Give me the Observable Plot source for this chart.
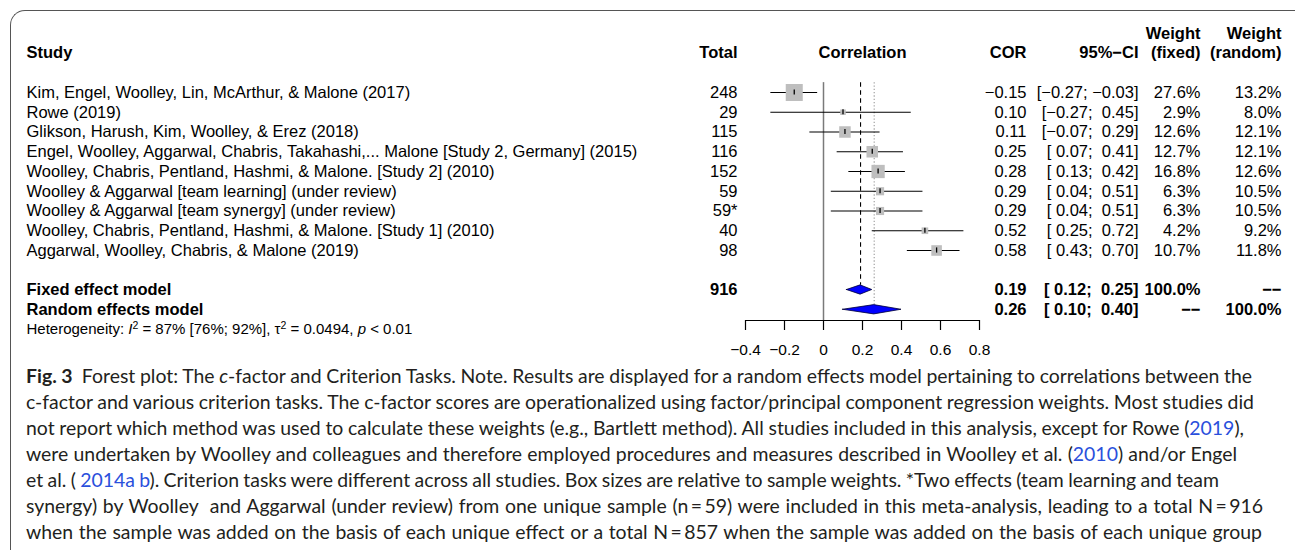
<!DOCTYPE html>
<html>
<head>
<meta charset="utf-8">
<script src="https://cdn.jsdelivr.net/npm/d3@7"></script>
<script src="https://cdn.jsdelivr.net/npm/@observablehq/plot@0.6"></script>
<style>
html, body { margin: 0; padding: 0; background: #fff; }
#wrap { position: relative; width: 1295px; height: 550px; overflow: hidden; background: #fff; }
#frame { position: absolute; left: 10px; top: 10px; width: 1400px; height: 700px; box-sizing: border-box;
  border-left: 1.6px solid #555; border-top: 1.6px solid #555; border-top-left-radius: 15px; }
#chart { position: absolute; left: 0; top: 0; }
#caption { position: absolute; left: 26px; top: 363px; font-family: Lato, "Noto Sans", sans-serif; font-size: 17px;
  line-height: 26px; color: #231f20; white-space: nowrap; }
#caption .cl { height: 26px; }
#caption a { color: #2a50dc; text-decoration: none; }
</style>
</head>
<body>
<div id="wrap"><div id="frame"></div><div id="chart"></div><div id="caption"></div></div>
<script>
// ---------------- data ----------------
const studies = [
  "Kim, Engel, Woolley, Lin, McArthur, & Malone (2017)",
  "Rowe (2019)",
  "Glikson, Harush, Kim, Woolley, & Erez (2018)",
  "Engel, Woolley, Aggarwal, Chabris, Takahashi,... Malone [Study 2, Germany] (2015)",
  "Woolley, Chabris, Pentland, Hashmi, & Malone. [Study 2] (2010)",
  "Woolley & Aggarwal [team learning] (under review)",
  "Woolley & Aggarwal [team synergy] (under review)",
  "Woolley, Chabris, Pentland, Hashmi, & Malone. [Study 1] (2010)",
  "Aggarwal, Woolley, Chabris, & Malone (2019)"
];
const totals = ["248", "29", "115", "116", "152", "59", "59*", "40", "98"];
const cor = [-0.15, 0.10, 0.11, 0.25, 0.28, 0.29, 0.29, 0.52, 0.58];
const lower = [-0.27, -0.27, -0.07, 0.07, 0.13, 0.04, 0.04, 0.25, 0.43];
const upper = [-0.03, 0.45, 0.29, 0.41, 0.42, 0.51, 0.51, 0.72, 0.70];
const weightFixed = [27.6, 2.9, 12.6, 12.7, 16.8, 6.3, 6.3, 4.2, 10.7];
const weightRandom = [13.2, 8.0, 12.1, 12.1, 12.6, 10.5, 10.5, 9.2, 11.8];

const models = ["Fixed effect model", "Random effects model"];
const modelTotal = ["916", ""];
const modelEst = [0.19, 0.26];
const modelLower = [0.12, 0.10];
const modelUpper = [0.25, 0.40];
const modelWeightFixed = ["100.0%", "\u2212\u2212"];
const modelWeightRandom = ["\u2212\u2212", "100.0%"];

const headerTop = ["", "", "", "", "", "Weight", "Weight"];
const headerLabels = ["Study", "Total", "Correlation", "COR", "95%\u2212CI", "(fixed)", "(random)"];
const hetText = "Heterogeneity: I2 = 87% [76%; 92%], \u03c42 = 0.0494, p < 0.01";
const xTicks = [-0.4, -0.2, 0, 0.2, 0.4, 0.6, 0.8];

const captionLines = [
  '<b>Fig.\u00a03</b>\u00a0 Forest plot: The <i>c</i>-factor and Criterion Tasks. Note. Results are displayed for a random effects model pertaining to correlations between the',
  'c-factor and various criterion tasks. The c-factor scores are operationalized using factor/principal component regression weights. Most studies did',
  'not report which method was used to calculate these weights (e.g., Bartlett method). All studies included in this analysis, except for Rowe (<a>2019</a>),',
  'were undertaken by Woolley and colleagues and therefore employed procedures and measures described in Woolley et al. (<a>2010</a>) and/or Engel',
  'et al. ( <a>2014a b</a>). Criterion tasks were different across all studies. Box sizes are relative to sample weights. *Two effects (team learning and team',
  'synergy) by Woolley\u00a0 and Aggarwal (under review) from one unique sample (n\u2009=\u200959) were included in this meta-analysis, leading to a total N\u2009=\u2009916',
  'when the sample was added on the basis of each unique effect or a total N\u2009=\u2009857 when the sample was added on the basis of each unique group'
];

// ---------------- layout ----------------
const W = 1295, H = 362;
const rowFirst = 1, rowFixed = 11, rowRandom = 12, rowHet = 13, rowHeader = -1, rowHeaderTop = -2;
const yDomain = [-2, 12.544];          // last value = axis line row
const colX = [26, 737, 862, 1026, 1138, 1200, 1281];
const colAnchor = ["start", "end", "middle", "end", "end", "end", "end"];
const TF = "Liberation Sans, Arial, Helvetica, sans-serif";
const FS = 16.5;

const fmt2 = v => (v < 0 ? "\u2212" : "") + Math.abs(v).toFixed(2);
const fmtCI = v => (v < 0 ? "\u2212" : "\u00a0") + Math.abs(v).toFixed(2);
const ciText = (lo, hi) => `[${fmtCI(lo)};\u00a0${fmtCI(hi)}]`;

const rows = studies.map((s, i) => ({
  study: s, total: totals[i], cor: cor[i], lo: lower[i], hi: upper[i],
  wf: weightFixed[i], wr: weightRandom[i], row: rowFirst + i,
  corT: fmt2(cor[i]), ciT: ciText(lower[i], upper[i]),
  wfT: weightFixed[i].toFixed(1) + "%", wrT: weightRandom[i].toFixed(1) + "%"
}));
const modelRows = models.map((m, i) => ({
  study: m, total: modelTotal[i], est: modelEst[i], lo: modelLower[i], hi: modelUpper[i],
  row: i === 0 ? rowFixed : rowRandom,
  corT: fmt2(modelEst[i]), ciT: ciText(modelLower[i], modelUpper[i]),
  wfT: modelWeightFixed[i], wrT: modelWeightRandom[i]
}));
const halfDiamond = 0.235;
const diamondPts = modelRows.flatMap(m => [
  {m: m.study, x: m.lo, y1: m.row, y2: m.row},
  {m: m.study, x: m.est, y1: m.row - halfDiamond, y2: m.row + halfDiamond},
  {m: m.study, x: m.hi, y1: m.row, y2: m.row}
]);

function col(data, field, i, extra = {}) {
  return Plot.text(data, {
    text: field, y: "row", frameAnchor: "left", dx: colX[i], textAnchor: colAnchor[i],
    fontFamily: TF, fontSize: FS, fill: "black", ...extra
  });
}
const fields = ["study", "total", null, "corT", "ciT", "wfT", "wrT"];
const tableMarks = [];
fields.forEach((f, i) => {
  if (!f) return;
  tableMarks.push(col(rows, f, i));
  tableMarks.push(col(modelRows, f, i, {fontWeight: "bold"}));
});
headerLabels.forEach((t, i) => {
  tableMarks.push(Plot.text([t], {text: d => d, y: () => rowHeader, frameAnchor: "left", dx: colX[i],
    textAnchor: colAnchor[i], fontFamily: TF, fontSize: FS, fontWeight: "bold", fill: "black"}));
  if (headerTop[i]) tableMarks.push(Plot.text([headerTop[i]], {text: d => d, y: () => rowHeaderTop, frameAnchor: "left",
    dx: colX[i], textAnchor: colAnchor[i], fontFamily: TF, fontSize: FS, fontWeight: "bold", fill: "black"}));
});

const chart = Plot.plot({
  width: W, height: H,
  marginLeft: 0, marginRight: 0, marginTop: 0, marginBottom: H - 320,
  x: {domain: [xTicks[0], xTicks[xTicks.length - 1]], range: [745, 979]},
  y: {domain: yDomain, range: [32.75, 320], axis: null},
  r: {type: "sqrt", domain: [0, d3.max(weightFixed)], range: [0, 9.6]},
  style: {background: "transparent", overflow: "visible", color: "black"},
  marks: [
    // reference lines
    Plot.ruleX([0], {y1: () => 0.5, y2: () => yDomain[1], stroke: "#7a7a7a", strokeWidth: 1.5}),
    Plot.ruleX([modelEst[0]], {x: d => d, y1: () => 0.5, y2: () => rowFixed - halfDiamond, stroke: "black", strokeDasharray: "4.5,3.5", strokeWidth: 1.1}),
    Plot.ruleX([modelEst[1]], {x: d => d, y1: () => 0.5, y2: () => rowRandom, stroke: "#9a9a9a", strokeDasharray: "1.3,2", strokeWidth: 1.1}),
    // CIs, boxes, point ticks
    Plot.ruleY(rows, {y: "row", x1: "lo", x2: "hi", stroke: "black", strokeWidth: 1.2}),
    Plot.dot(rows, {x: "cor", y: "row", r: "wf", symbol: "square", fill: "#bebebe"}),
    Plot.ruleX(rows, {x: "cor", y1: "row", y2: "row", insetTop: -2.6, insetBottom: -2.6, stroke: "black", strokeWidth: 1.3}),
    // diamonds
    Plot.areaY(diamondPts, {x: "x", y1: "y1", y2: "y2", z: "m", fill: "#0000ff", stroke: "#000033", strokeWidth: 0.8}),
    // axis
    Plot.ruleY([yDomain[1]], {y: d => d, x1: () => xTicks[0], x2: () => xTicks[xTicks.length - 1], stroke: "black", strokeWidth: 1.2}),
    Plot.axisX({ticks: xTicks, tickSize: 10, tickPadding: 13, label: null, stroke: "black", strokeWidth: 1.2,
      tickFormat: d => d === 0 ? "0" : d3.format(".1f")(d), fontFamily: TF, fontSize: 15.5, fill: "black"}),
    // table
    ...tableMarks,
    Plot.text([hetText], {text: d => d, y: () => rowHet, frameAnchor: "left", dx: 26, textAnchor: "start",
      fontFamily: TF, fontSize: 15, fill: "black"})
  ]
});
document.getElementById("chart").appendChild(chart);

// rich heterogeneity text (italic I and p, superscripts)
d3.select(chart).selectAll("text").filter(function () { return this.textContent === hetText; }).each(function () {
  const t = d3.select(this);
  t.text(null);
  const parts = [["Heterogeneity: "], ["I", "i"], ["2", "sup"], [" = 87% [76%; 92%], \u03c4"], ["2", "sup"], [" = 0.0494, "], ["p", "i"], [" < 0.01"]];
  let raised = false;
  for (const [s, k] of parts) {
    const ts = t.append("tspan").text(s).attr("xml:space", "preserve").style("white-space", "pre");
    if (k === "i") ts.attr("font-style", "italic");
    if (k === "sup") { ts.attr("font-size", "70%").attr("dy", "-5"); raised = true; }
    else if (raised) { ts.attr("dy", "5"); raised = false; }
  }
});

// caption
const cap = document.getElementById("caption");
cap.innerHTML = captionLines.map(l => `<div class="cl"><span>${l}</span></div>`).join("");
const captionRight = [1252, 1254, 1244, 1237, 1219, 1263, 1262];
const spans = [...cap.querySelectorAll(".cl > span")];
const targets = captionRight.map(r => r - 26);
const natural = spans.reduce((s, sp) => s + sp.getBoundingClientRect().width, 0);
const fs = 17 * d3.sum(targets) / natural;
cap.style.fontSize = fs + "px";
spans.forEach((sp, i) => {
  const w = sp.getBoundingClientRect().width;
  const n = (sp.textContent.match(/[ \u00a0]/g) || []).length;
  sp.style.wordSpacing = ((targets[i] - w) / n) + "px";
});
</script>
</body>
</html>
